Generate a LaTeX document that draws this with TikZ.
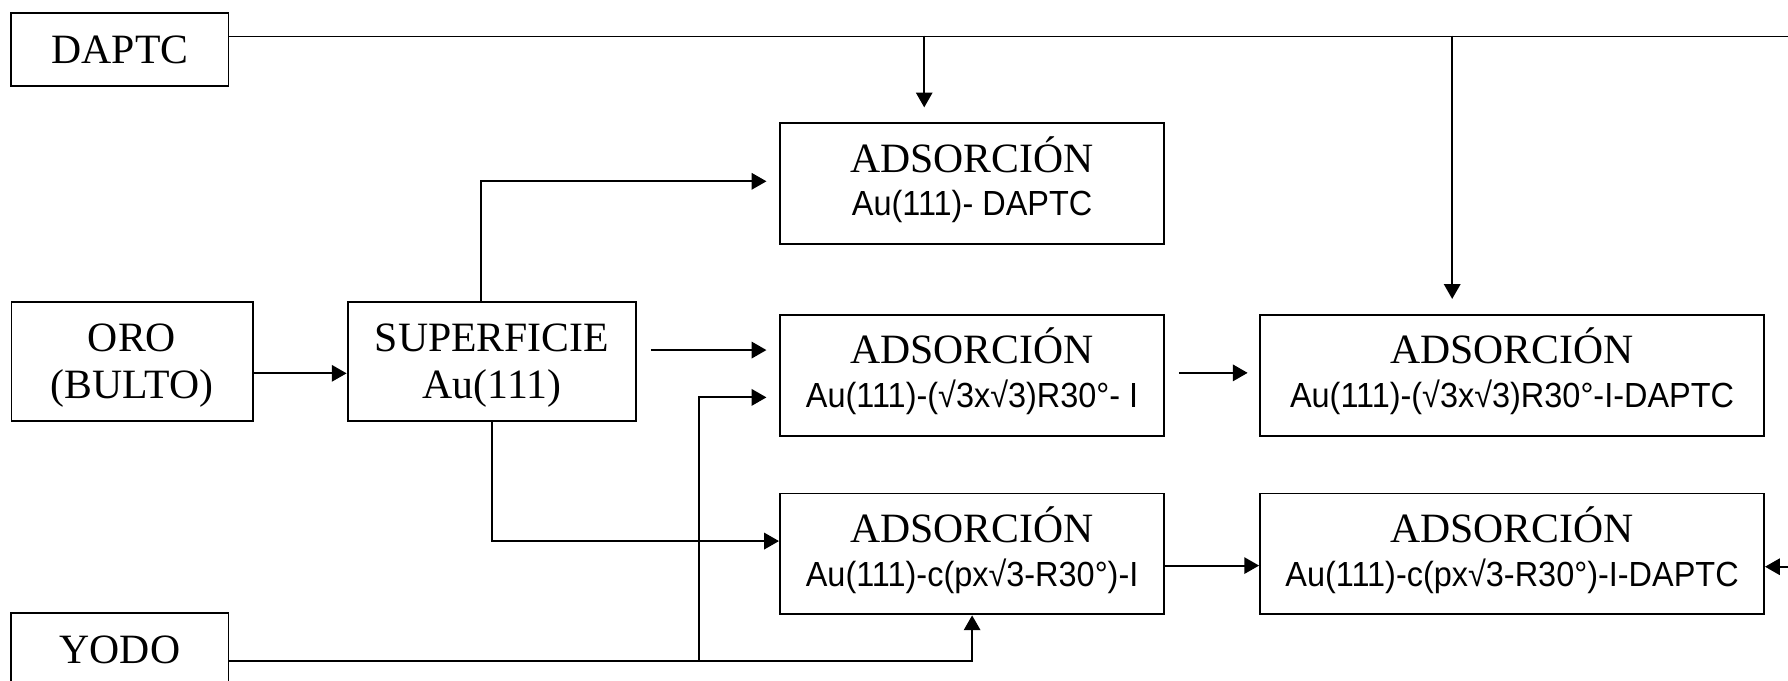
\documentclass[tikz,border=0pt]{standalone}
\usepackage{fontspec}
\setmainfont{Liberation Serif}
\setsansfont[FakeStretch=0.93]{Liberation Sans}
\usetikzlibrary{calc}
\usetikzlibrary{arrows.meta}
\newcommand{\fase}[1]{{\sffamily\fontsize{15.3}{19}\selectfont #1\rule[-6.5pt]{0pt}{6.5pt}}}
\newcommand{\alto}{\rule{0pt}{16pt}}

\begin{document}
\begin{tikzpicture}[x=0.5pt,y=-0.5pt,
  caja/.style={draw,line width=0.85pt,inner sep=0pt,align=center,font=\fontsize{18.3}{20.7}\selectfont},
  ads/.style={caja,minimum width=168.5pt,minimum height=53pt,font=\fontsize{18.3}{19}\selectfont},
  adsd/.style={ads,minimum width=221pt},
  flecha/.style={line width=0.85pt,-{Triangle[length=6.5pt,width=7.2pt]}},
  linea/.style={line width=0.85pt}]
  \path[use as bounding box] (0,0) rectangle (1568,597);
  \clip (0,0) rectangle (1568,597);

  % Entradas
  \node[caja,minimum width=95.2pt,minimum height=31.7pt] (Daptc) at (105.2,43.4) {DAPTC};
  \node[caja,minimum width=105.7pt,minimum height=52.2pt] (Oro) at (115.8,317) {\alto ORO\\(BULTO)};
  \node[caja,minimum width=95.2pt,minimum height=32.5pt] (Yodo) at (105.2,570) {YODO};

  % Superficie
  \node[caja,minimum width=126.6pt,minimum height=52.2pt] (Superficie) at (431.4,317) {\alto SUPERFICIE\\Au(111)};

  % Adsorciones
  \node[ads] (adsDaptc) at (852.5,161) {ADSORCIÓN\\\fase{Au(111)- DAPTC}};
  \node[ads] (adsRaiz) at (852.5,329) {ADSORCIÓN\\\fase{Au(111)-(√3x√3)R30°- I}};
  \node[ads] (adsC) at (852.5,485.8) {ADSORCIÓN\\\fase{Au(111)-c(px√3-R30°)-I}};
  \node[adsd] (adsRaizD) at (1326,329) {ADSORCIÓN\\\fase{Au(111)-(√3x√3)R30°-I-DAPTC}};
  \node[adsd] (adsCD) at (1326,485.8) {ADSORCIÓN\\\fase{Au(111)-c(px√3-R30°)-I-DAPTC}};

  % DAPTC
  \coordinate (derecha) at ($(Daptc.east)+(1420,-11.4)$);
  \draw[linea] ($(Daptc.east)+(0,-11.4)$) -- (derecha);
  \draw[flecha,shorten >=6.5pt] ($(adsDaptc.north)+(-42,-76)$) -- ($(adsDaptc.north)+(-42,0)$);
  \draw[flecha,shorten >=6.5pt] ($(adsRaizD.north)+(-52.5,-244)$) -- ($(adsRaizD.north)+(-52.5,0)$);
  \draw[flecha] (derecha) |- ($(adsCD.east)+(0,11.2)$);

  % Oro
  \draw[flecha] ($(Oro.east)+(0,10.4)$) -- ($(Superficie.west)+(0,10.4)$);
  \draw[flecha,shorten >=5.5pt] ($(Superficie.north)+(-9.4,0)$) |- ($(adsDaptc.west)+(0,-2)$);
  \draw[flecha,shorten >=5.5pt] ($(Superficie.east)+(12,-10)$) -- ($(adsRaiz.west)+(0,-22)$);
  \draw[flecha] (Superficie.south) |- ($(adsC.west)+(0,-11.3)$);

  % Yodo
  \coordinate (ramal) at ($(Yodo.east)+(411.4,10)$);
  \draw[flecha] ($(Yodo.east)+(0,10)$) -| (adsC.south);
  \draw[flecha,shorten >=5.5pt] (ramal) |- ($(adsRaiz.west)+(0,19.5)$);

  % Pasos siguientes
  \draw[flecha,shorten <=6pt,shorten >=5pt] ($(adsRaiz.east)+(0,-2)$) -- ($(adsRaizD.west)+(0,-2)$);
  \draw[flecha] ($(adsC.east)+(0,10.2)$) -- ($(adsCD.west)+(0,10.2)$);

\end{tikzpicture}
\end{document}
